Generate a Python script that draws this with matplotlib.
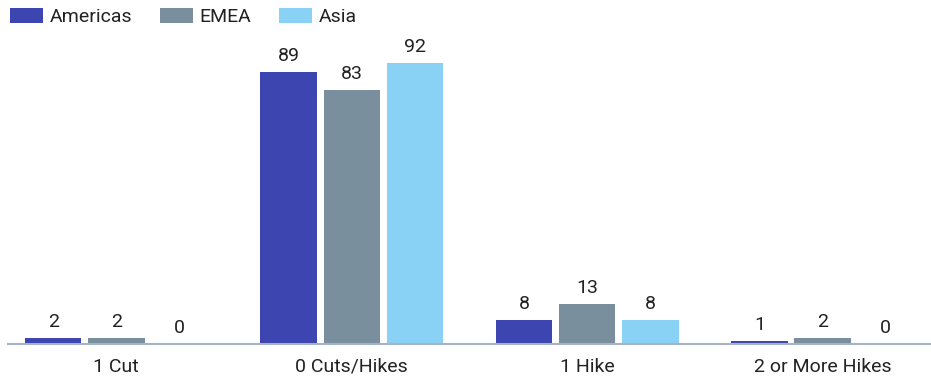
import numpy as np
import matplotlib.pyplot as plt
from matplotlib import font_manager

categories = ["1 Cut", "0 Cuts/Hikes", "1 Hike", "2 or More Hikes"]
regions = ["Americas", "EMEA", "Asia"]
americas = [2, 89, 8, 1]
emea = [2, 83, 13, 2]
asia = [0, 92, 8, 0]
colors = ["#3d45b0", "#7a8f9e", "#89d1f5"]

names = {f.name for f in font_manager.fontManager.ttflist}
family = "Liberation Sans Narrow" if "Liberation Sans Narrow" in names else "Roboto"
plt.rcParams["font.family"] = [family, "DejaVu Sans"]
fs = 14

fig = plt.figure(figsize=(9.31, 3.81), dpi=100)
ax = fig.add_axes([8 / 931, 37 / 381, 923 / 931, 305.5 / 381])

x = np.arange(len(categories))
width = 0.24
step = 0.268
for i, (name, vals) in enumerate(zip(regions, [americas, emea, asia])):
    bars = ax.bar(x + (i - 1) * step, vals, width, color=colors[i], label=name)
    ax.bar_label(bars, padding=5, fontsize=fs, color="#222222")

ax.set_xlim(-0.46, 3.46)
ax.set_ylim(0, 100)
ax.set_xticks(x)
ax.set_xticklabels(categories, fontsize=fs, color="#222222")
ax.tick_params(axis="x", length=0, pad=10)
ax.set_yticks([])
for side in ["top", "right", "left"]:
    ax.spines[side].set_visible(False)
ax.spines["bottom"].set_color("#a5b4c2")
ax.spines["bottom"].set_linewidth(1.5)

fig.legend(loc="upper left", bbox_to_anchor=(-0.008, 1.025), ncol=3, frameon=False,
           handlelength=1.7, handleheight=0.8, handletextpad=0.35,
           columnspacing=1.4, fontsize=fs, labelcolor="#222222")

fig.savefig("out.png", dpi=100)
